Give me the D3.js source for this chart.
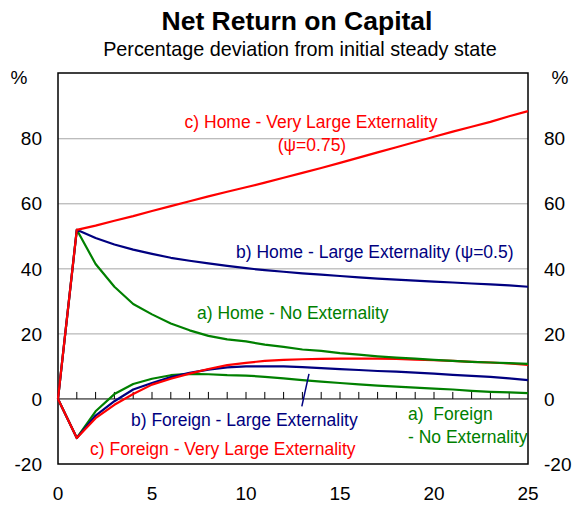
<!DOCTYPE html>
<html>
<head>
<meta charset="utf-8">
<script src="https://cdn.jsdelivr.net/npm/d3@7"></script>
<style>
  html, body { margin: 0; padding: 0; background: #fff; }
  svg { display: block; font-family: "Liberation Sans", Arial, sans-serif; }
</style>
</head>
<body>
<svg id="chart" width="581" height="509"></svg>
<script>
// Years after the shock
const years = d3.range(0, 26);

// Home economy, percentage deviation of the net return on capital
const homeNoExt = [0, 52, 41.5, 34.5, 29.2, 26.0, 23.2, 21.1, 19.4, 18.3, 17.7, 16.7, 16.0, 15.2, 14.8, 14.1, 13.6, 13.1, 12.7, 12.4, 12.0, 11.7, 11.4, 11.2, 11.0, 10.8];
const homeLargeExt = [0, 52, 49.5, 47.5, 45.9, 44.6, 43.4, 42.5, 41.7, 40.9, 40.2, 39.6, 39.1, 38.6, 38.2, 37.8, 37.4, 37.0, 36.7, 36.4, 36.1, 35.8, 35.5, 35.2, 34.9, 34.5];
const homeVeryLargeExt = [0, 52, 53.3, 54.8, 56.2, 57.8, 59.3, 60.8, 62.3, 63.7, 65.1, 66.5, 68.0, 69.5, 71.0, 72.6, 74.2, 75.8, 77.4, 79.0, 80.6, 82.2, 83.7, 85.2, 86.9, 88.5];

// Foreign economy
const foreignNoExt = [0, -12, -3.8, 1.5, 4.6, 6.2, 7.3, 7.7, 7.6, 7.3, 7.2, 6.8, 6.3, 5.8, 5.3, 4.9, 4.5, 4.1, 3.8, 3.5, 3.2, 2.9, 2.5, 2.2, 2.0, 1.8];
const foreignLargeExt = [0, -12, -5.1, -0.7, 2.9, 4.9, 6.7, 8.0, 9.0, 9.7, 10.0, 10.0, 10.0, 9.8, 9.5, 9.2, 8.9, 8.6, 8.4, 8.1, 7.8, 7.4, 7.1, 6.8, 6.3, 5.8];
const foreignVeryLargeExt = [0, -12, -5.9, -1.8, 1.5, 4.4, 6.2, 7.8, 9.2, 10.4, 11.1, 11.7, 12.0, 12.2, 12.3, 12.4, 12.4, 12.4, 12.3, 12.1, 11.9, 11.7, 11.4, 11.2, 10.9, 10.5];

const yTicks = [-20, 0, 20, 40, 60, 80];
const xTicks = [0, 5, 10, 15, 20, 25];
const gridValues = [20, 40, 60, 80];

const RED = "#ff0000", NAVY = "#000080", GREEN = "#008000";

const svg = d3.select("#chart");
const plotLeft = 58, plotRight = 528, plotTop = 73, plotBottom = 464;

const x = d3.scaleLinear().domain([0, 25]).range([plotLeft, plotRight]);
const y = d3.scaleLinear().domain([-20, 100]).range([plotBottom, plotTop + 0.7]);

// Title block
svg.append("text").attr("x", 297).attr("y", 30).attr("text-anchor", "middle")
  .attr("font-size", 26.5).attr("font-weight", "bold").text("Net Return on Capital");
svg.append("text").attr("x", 300).attr("y", 55.5).attr("text-anchor", "middle")
  .attr("font-size", 19.8).text("Percentage deviation from initial steady state");

// Horizontal grid
svg.append("g").selectAll("line").data(gridValues).join("line")
  .attr("x1", plotLeft).attr("x2", plotRight)
  .attr("y1", d => y(d)).attr("y2", d => y(d))
  .attr("stroke", "#a6a6a6").attr("stroke-width", 1);

// Zero line with yearly tick marks pointing up
svg.append("line").attr("x1", plotLeft).attr("x2", plotRight)
  .attr("y1", y(0)).attr("y2", y(0)).attr("stroke", "#000").attr("stroke-width", 1);
svg.append("g").selectAll("line").data(d3.range(1, 25)).join("line")
  .attr("x1", d => x(d)).attr("x2", d => x(d))
  .attr("y1", y(0)).attr("y2", y(0) - 7)
  .attr("stroke", "#000").attr("stroke-width", 1);

// Frame
svg.append("rect").attr("x", plotLeft).attr("y", plotTop)
  .attr("width", plotRight - plotLeft).attr("height", plotBottom - plotTop)
  .attr("fill", "none").attr("stroke", "#000").attr("stroke-width", 1.5);

// Axis labels on both sides
const tickFont = 19;
svg.append("g").selectAll("text").data(yTicks).join("text")
  .attr("x", 42).attr("y", d => y(d)).attr("dy", "0.35em")
  .attr("text-anchor", "end").attr("font-size", tickFont).text(d => d);
svg.append("g").selectAll("text").data(yTicks).join("text")
  .attr("x", 544).attr("y", d => y(d)).attr("dy", "0.35em")
  .attr("text-anchor", "start").attr("font-size", tickFont).text(d => d);
svg.append("g").selectAll("text").data(xTicks).join("text")
  .attr("x", d => x(d)).attr("y", 493).attr("dy", "0.35em")
  .attr("text-anchor", "middle").attr("font-size", tickFont).text(d => d);
svg.append("text").attr("x", 19).attr("y", 77).attr("dy", "0.35em")
  .attr("text-anchor", "middle").attr("font-size", tickFont).text("%");
svg.append("text").attr("x", 560).attr("y", 77).attr("dy", "0.35em")
  .attr("text-anchor", "middle").attr("font-size", tickFont).text("%");

// Series
const line = d3.line().x((d, i) => x(years[i])).y(d => y(d));
const series = [
  { values: foreignNoExt, color: GREEN },
  { values: foreignLargeExt, color: NAVY },
  { values: foreignVeryLargeExt, color: RED },
  { values: homeNoExt, color: GREEN },
  { values: homeLargeExt, color: NAVY },
  { values: homeVeryLargeExt, color: RED }
];
svg.append("g").selectAll("path").data(series).join("path")
  .attr("d", d => line(d.values))
  .attr("fill", "none").attr("stroke", d => d.color)
  .attr("stroke-width", 2.2).attr("stroke-linejoin", "round");

// Pointer from the foreign label to its line
svg.append("line")
  .attr("x1", x(13.35)).attr("y1", y(7.7))
  .attr("x2", x(12.97)).attr("y2", y(-2.3))
  .attr("stroke", NAVY).attr("stroke-width", 1.5);

// Series labels
const labels = [
  { text: "c) Home - Very Large Externality", x: 311, y: 122, color: RED, anchor: "middle" },
  { text: "(\u03c8=0.75)", x: 312, y: 145, color: RED, anchor: "middle" },
  { text: "b) Home - Large Externality (\u03c8=0.5)", x: 236, y: 252, color: NAVY, anchor: "start" },
  { text: "a) Home - No Externality", x: 197, y: 313, color: GREEN, anchor: "start" },
  { text: "b) Foreign - Large Externality", x: 131, y: 420, color: NAVY, anchor: "start" },
  { text: "c) Foreign - Very Large Externality", x: 90, y: 449, color: RED, anchor: "start" },
  { text: "a)  Foreign", x: 408, y: 414, color: GREEN, anchor: "start" },
  { text: "- No Externality", x: 408, y: 437, color: GREEN, anchor: "start" }
];
svg.append("g").selectAll("text").data(labels).join("text")
  .attr("x", d => d.x).attr("y", d => d.y).attr("dy", "0.35em")
  .attr("text-anchor", d => d.anchor).attr("fill", d => d.color)
  .attr("font-size", 17.5).style("white-space", "pre").text(d => d.text);
</script>
</body>
</html>
